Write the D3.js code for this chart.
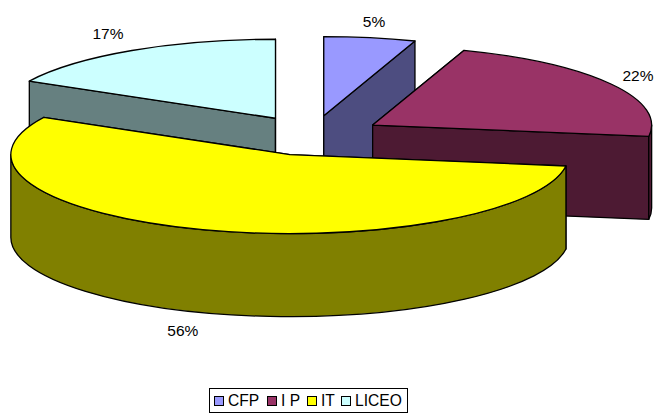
<!DOCTYPE html>
<html>
<head>
<meta charset="utf-8">
<script src="https://cdn.jsdelivr.net/npm/d3@7"></script>
<style>
html, body { margin: 0; padding: 0; background: #fff; }
text { font-family: "Liberation Sans", Arial, sans-serif; fill: #000; }
</style>
</head>
<body>
<div class="chart"></div>
<script>
var categories = ['CFP', 'I P', 'IT', 'LICEO'];
// the labels are rounded, slice sizes read a bit finer from the picture
var values = [5.3, 22, 55.5, 17.2];
var percentLabels = ['5%', '22%', '56%', '17%'];
var topColors = ['#9999ff', '#993366', '#ffff00', '#ccffff'];
var sideColors = ['#4d4d80', '#4d1a33', '#808000', '#668080'];
var labelOffsets = [[4, -16], [27, -8], [-20, 18], [-24, -17]];
var legendSwatchX = [214, 267, 307, 341];

var width = 656;
var height = 417;
var rx = 279;
var ry = 79;
var depth = 83;
var explode = 71;
var cx = 312;
var cy = 135.5;

var svg = d3.select(".chart")
.append("svg")
.attr("width", width)
.attr("height", height)
.style("display", "block");

var pie = d3.pie().sort(null);
var slices = pie(values);

// angle is clockwise from 12 o'clock, like d3.pie
function pt(c, a, dy) {
  return [c[0] + rx * Math.sin(a), c[1] - ry * Math.cos(a) + (dy || 0)];
}

function arcTo(p, sweep) {
  return "A" + rx + "," + ry + " 0 0 " + sweep + " " + p[0] + "," + p[1];
}

slices.forEach(function(d) {
  var mid = (d.startAngle + d.endAngle) / 2;
  d.center = [cx + explode * Math.sin(mid), cy - explode * Math.cos(mid) * ry / rx];
});

function topPath(d) {
  var c = d.center;
  var a = pt(c, d.startAngle), b = pt(c, d.endAngle);
  var large = d.endAngle - d.startAngle > Math.PI ? 1 : 0;
  return "M" + c + "L" + a + "A" + rx + "," + ry + " 0 " + large + " 1 " + b + "Z";
}

function facePath(d, angle) {
  var c = d.center;
  var p = pt(c, angle);
  return "M" + c + "L" + p + "L" + [p[0], p[1] + depth] + "L" + [c[0], c[1] + depth] + "Z";
}

// outer wall, only the part facing the viewer
function wallPath(d) {
  var a0 = Math.max(d.startAngle, Math.PI / 2);
  var a1 = Math.min(d.endAngle, Math.PI * 1.5);
  if (a1 <= a0) return null;
  var c = d.center;
  return "M" + pt(c, a0) + arcTo(pt(c, a1), 1) + "L" + pt(c, a1, depth) + arcTo(pt(c, a0, depth), 0) + "Z";
}

var g = svg.selectAll("g.slice")
.data([slices[3], slices[0], slices[1], slices[2]])
.enter().append("g")
.attr("class", "slice")
.attr("stroke", "#000")
.attr("stroke-width", 1.3)
.attr("stroke-linejoin", "round");

g.each(function(d) {
  var s = d3.select(this);
  var side = sideColors[d.index];
  s.append("path").attr("d", facePath(d, d.startAngle)).attr("fill", side);
  s.append("path").attr("d", facePath(d, d.endAngle)).attr("fill", side);
  var w = wallPath(d);
  if (w) s.append("path").attr("d", w).attr("fill", side);
  s.append("path").attr("d", topPath(d)).attr("fill", topColors[d.index]);
});

// percentage labels
svg.selectAll("text.pct")
.data(slices)
.enter().append("text")
.attr("class", "pct")
.attr("text-anchor", "middle")
.attr("font-size", 15.5)
.attr("x", function(d) {
  return pt(d.center, (d.startAngle + d.endAngle) / 2)[0] + labelOffsets[d.index][0];
})
.attr("y", function(d) {
  var mid = (d.startAngle + d.endAngle) / 2;
  var extra = Math.cos(mid) < 0 ? depth : 0;
  return pt(d.center, mid, extra)[1] + labelOffsets[d.index][1] + 5;
})
.text(function(d) { return percentLabels[d.index]; });

// legend
var legend = svg.append("g").attr("class", "legend");

legend.append("rect")
.attr("x", 209.5)
.attr("y", 388.5)
.attr("width", 198)
.attr("height", 24)
.attr("fill", "#fff")
.attr("stroke", "#000");

categories.forEach(function(name, i) {
  legend.append("rect")
  .attr("x", legendSwatchX[i] + 0.5)
  .attr("y", 396.5)
  .attr("width", 9)
  .attr("height", 9)
  .attr("fill", topColors[i])
  .attr("stroke", "#000");

  legend.append("text")
  .attr("x", legendSwatchX[i] + 14)
  .attr("y", 406)
  .attr("font-size", 15.6)
  .text(name);
});
</script>
</body>
</html>
